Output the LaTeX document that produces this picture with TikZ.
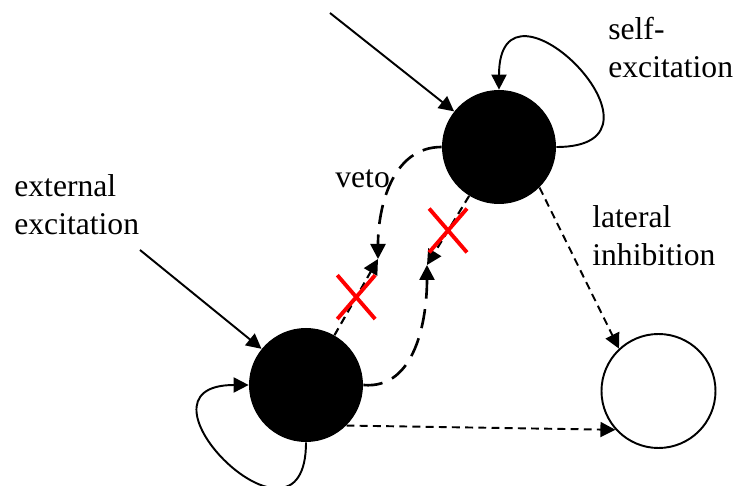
\documentclass[tikz,border=0pt]{standalone}
\usepackage{fontspec}
\setmainfont{Liberation Serif}
\usetikzlibrary{arrows.meta,shapes.misc}
\definecolor{VetoRed}{HTML}{FF0000}
\tikzset{
  neuron/.style={circle,minimum size=2.28cm,inner sep=0pt},
  lbl/.style={anchor=base west,align=left,inner sep=0pt,font=\fontsize{18}{22}\selectfont},
  excite/.style={-{Triangle[length=0.3cm,width=0.3cm]},line width=1.1pt},
  inhibit/.style={excite,dash pattern=on 4.5pt off 3pt},
  vetocurve/.style={excite,line width=1.5pt,dash pattern=on 11pt off 6pt},
  vetocross/.style={cross out,solid,draw=VetoRed,line width=2.2pt,minimum width=0.68cm,minimum height=0.8cm,inner sep=0pt},
}
\begin{document}
\begin{tikzpicture}[x=1cm,y=1cm]
\path[use as bounding box] (0,0) rectangle (14.68,9.72);
\node[neuron,fill=black] (top) at (9.98,6.78) {};
\node[neuron,fill=black] (left) at (6.12,2.02) {};
\node[neuron,draw,line width=1.1pt] (right) at (13.17,1.90) {};
\coordinate (inTop) at (6.60,9.46);
\coordinate (inLeft) at (2.80,4.72);
\coordinate (meetL) at (7.56,4.54);
\coordinate (meetR) at (8.54,4.42);
\draw[excite] (inTop) -- (top);
\draw[excite] (inLeft) -- (left);
\draw[excite] (top.east) to[out=0,in=90,looseness=4.2] (top.north);
\draw[excite] (left.south) to[out=-90,in=180,looseness=4.1] (left.west);
\draw[inhibit] (top.-45) -- (right.133);
\draw[inhibit] (left.-45) -- (right.222);
\draw[vetocurve] (top.west) to[out=180,in=90] (meetL);
\draw[vetocurve] (left.east) to[out=-5,in=-90] (meetR);
\draw[inhibit,line width=1.2pt] (left) -- node[vetocross] (crossL) {} (meetL);
\draw[inhibit,line width=1.2pt] (top) -- node[vetocross] (crossR) {} (meetR);
\node[lbl] (selfExc) at (12.16,8.16) {self-\\excitation};
\node[lbl] (extExc) at (0.28,5.02) {external\\excitation};
\node[lbl] (latInh) at (11.84,4.40) {lateral\\inhibition};
\node[lbl] (vetoLbl) at (6.70,5.96) {veto};
\end{tikzpicture}
\end{document}
